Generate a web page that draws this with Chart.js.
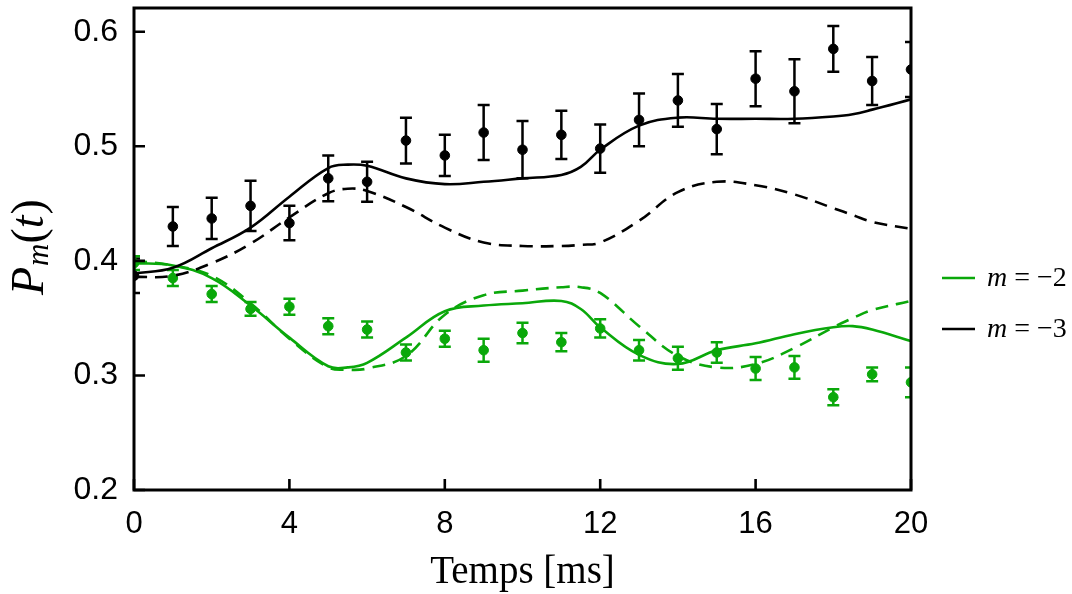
<!DOCTYPE html>
<html><head><meta charset="utf-8">
<script src="https://cdn.jsdelivr.net/npm/chart.js@4"></script>
<style>html,body{margin:0;padding:0;background:#fff}#wrap{width:1072px;height:594px}</style>
</head><body><div id="wrap"><canvas id="c" width="1072" height="594"></canvas></div>
<script>
// ---- data ----
const tData = [0,1,2,3,4,5,6,7,8,9,10,11,12,13,14,15,16,17,18,19,20];
const m3Vals = [0.387,0.430,0.437,0.448,0.433,0.472,0.469,0.505,0.492,0.512,0.497,0.510,0.498,0.523,0.540,0.515,0.559,0.548,0.585,0.557,0.567];
const m3Err  = [0.015,0.017,0.018,0.022,0.015,0.020,0.0175,0.020,0.018,0.024,0.025,0.021,0.021,0.023,0.023,0.022,0.024,0.028,0.020,0.021,0.024];
const m2Vals = [0.398,0.385,0.371,0.358,0.360,0.343,0.340,0.320,0.332,0.322,0.337,0.329,0.341,0.322,0.315,0.320,0.306,0.307,0.281,0.301,0.294];
const m2Err  = [0.006,0.007,0.007,0.006,0.007,0.007,0.007,0.007,0.007,0.010,0.009,0.008,0.008,0.009,0.010,0.009,0.010,0.010,0.007,0.006,0.013];

const tCurve = [0,1,2,3,4,5,5.5,6,7,8,9,10,11,11.5,12,13,14,15,16,17,18,18.5,19,20];
const m3Solid  = [0.389,0.394,0.411,0.429,0.456,0.481,0.484,0.483,0.472,0.467,0.469,0.472,0.475,0.482,0.497,0.518,0.525,0.524,0.524,0.524,0.526,0.528,0.532,0.541];
const m3Dashed = [0.386,0.387,0.398,0.415,0.438,0.459,0.463,0.461,0.447,0.429,0.416,0.413,0.413,0.414,0.416,0.435,0.460,0.469,0.466,0.458,0.446,0.440,0.434,0.428];
const m2Solid  = [0.398,0.396,0.385,0.361,0.333,0.308,0.307,0.311,0.333,0.356,0.361,0.363,0.365,0.358,0.342,0.318,0.310,0.322,0.328,0.336,0.342,0.343,0.340,0.330];
const m2Dashed = [0.400,0.396,0.387,0.363,0.332,0.307,0.305,0.306,0.317,0.353,0.370,0.374,0.377,0.377,0.372,0.343,0.317,0.307,0.310,0.324,0.342,0.350,0.357,0.365];

const xTicks = [0,4,8,12,16,20];
const yTicks = [0.2,0.3,0.4,0.5,0.6];
const legendLabels = ['−2','−3'];

const GREEN = '#0aa80a';
const BLACK = '#000000';

const pts = (xs, ys) => xs.map((x,i)=>({x:x, y:ys[i]}));

const errorBars = {
  id:'errorBars',
  beforeDatasetsDraw(chart){
    const {ctx, chartArea:a, scales:{x,y}} = chart;
    ctx.save();
    ctx.beginPath(); ctx.rect(a.left,a.top,a.right-a.left,a.bottom-a.top); ctx.clip();
    [[m3Vals,m3Err,BLACK],[m2Vals,m2Err,GREEN]].forEach(([v,e,c])=>{
      ctx.strokeStyle=c; ctx.lineWidth=2.5;
      tData.forEach((t,i)=>{
        const px=x.getPixelForValue(t), y1=y.getPixelForValue(v[i]+e[i]), y2=y.getPixelForValue(v[i]-e[i]);
        ctx.beginPath();
        ctx.moveTo(px,y1); ctx.lineTo(px,y2);
        ctx.moveTo(px-6,y1); ctx.lineTo(px+6,y1);
        ctx.moveTo(px-6,y2); ctx.lineTo(px+6,y2);
        ctx.stroke();
      });
    });
    ctx.restore();
  }
};

const frame = {
  id:'frame',
  afterDatasetsDraw(chart){
    const {ctx, chartArea:a, scales:{x,y}} = chart;
    ctx.save();
    ctx.strokeStyle='#000'; ctx.lineWidth=3;
    ctx.strokeRect(a.left,a.top,a.right-a.left,a.bottom-a.top);
    ctx.lineWidth=2.6;
    ctx.beginPath();
    yTicks.forEach(v=>{const py=y.getPixelForValue(v); ctx.moveTo(a.left,py); ctx.lineTo(a.left+11,py);});
    xTicks.forEach(v=>{const px=x.getPixelForValue(v); ctx.moveTo(px,a.bottom); ctx.lineTo(px,a.bottom-11);});
    ctx.stroke();
    ctx.restore();
  },
  afterDraw(chart){
    const {ctx, chartArea:a} = chart;
    ctx.save();
    ctx.fillStyle='#000';
    // x title
    ctx.font='39px "Liberation Serif"';
    ctx.textAlign='center'; ctx.textBaseline='alphabetic';
    ctx.fillText('Temps [ms]', (a.left+a.right)/2, 583);
    // y title P_m(t)
    ctx.translate(43, 295);
    ctx.rotate(-Math.PI/2);
    ctx.textAlign='left';
    let xx=0;
    ctx.font='italic 46px "Liberation Serif"';
    ctx.fillText('P', xx, 0); xx+=ctx.measureText('P').width+1;
    ctx.font='italic 31px "Liberation Serif"';
    ctx.fillText('m', xx, 5); xx+=ctx.measureText('m').width;
    ctx.font='46px "Liberation Serif"';
    ctx.fillText('(', xx, 0); xx+=ctx.measureText('(').width;
    ctx.font='italic 46px "Liberation Serif"';
    ctx.fillText('t', xx, 0); xx+=ctx.measureText('t').width+1;
    ctx.font='46px "Liberation Serif"';
    ctx.fillText(')', xx, 0);
    ctx.restore();
    // legend
    ctx.save();
    [[GREEN,278,legendLabels[0]],[BLACK,329,legendLabels[1]]].forEach(([c,ly,lab])=>{
      ctx.strokeStyle=c; ctx.lineWidth=2.5;
      ctx.beginPath(); ctx.moveTo(942,ly); ctx.lineTo(975,ly); ctx.stroke();
      ctx.fillStyle='#000'; ctx.textBaseline='alphabetic'; ctx.textAlign='left';
      let lx=987; const by=ly+8;
      ctx.font='italic 28px "Liberation Serif"';
      ctx.fillText('m', lx, by); lx+=ctx.measureText('m').width+7;
      ctx.font='28px "Liberation Serif"';
      ctx.fillText('=', lx, by); lx+=ctx.measureText('=').width+7;
      ctx.fillText(lab, lx, by);
    });
    ctx.restore();
  }
};

const lineDs = (label, xs, ys, color, dashed) => ({
  type:'line', label, data: pts(xs, ys), borderColor: color, borderWidth: 2.6,
  borderDash: dashed ? [13,8] : [], pointRadius: 0, fill:false,
  tension: 0.4, clip: 0
});
const ptDs = (label, ys, color) => ({
  type:'scatter', label, data: pts(tData, ys), backgroundColor: color, borderColor: color,
  pointRadius: 4.8, pointHoverRadius: 4.8, showLine:false, clip: 0
});

new Chart(document.getElementById('c'), {
  type:'line',
  data:{ datasets:[
    lineDs('m3 solid', tCurve, m3Solid, BLACK, false),
    lineDs('m3 dashed', tCurve, m3Dashed, BLACK, true),
    lineDs('m2 solid', tCurve, m2Solid, GREEN, false),
    lineDs('m2 dashed', tCurve, m2Dashed, GREEN, true),
    ptDs('m = −3 data', m3Vals, BLACK),
    ptDs('m = −2 data', m2Vals, GREEN)
  ]},
  options:{
    responsive:false, animation:false, devicePixelRatio:1,
    layout:{padding:{left:0,right:161,top:8,bottom:0}},
    plugins:{legend:{display:false}, tooltip:{enabled:false}},
    scales:{
      x:{type:'linear', min:0, max:20,
        grid:{display:false}, border:{display:false},
        afterBuildTicks(s){ s.ticks = xTicks.map(v=>({value:v})); },
        afterFit(s){ s.height = 104; s.paddingLeft = 0; s.paddingRight = 0; },
        ticks:{padding:8, color:'#000', font:{family:'"Liberation Sans"', size:31}, maxRotation:0,
          callback:v=>String(v)}},
      y:{type:'linear', min:0.2, max:0.6207,
        grid:{display:false}, border:{display:false},
        afterBuildTicks(s){ s.ticks = yTicks.map(v=>({value:v})); },
        afterFit(s){ s.width = 134; s.paddingTop = 0; s.paddingBottom = 0; },
        ticks:{padding:8, color:'#000', font:{family:'"Liberation Sans"', size:32},
          callback:v=>v.toFixed(1)}}
    }
  },
  plugins:[errorBars, frame]
});
</script></body></html>
